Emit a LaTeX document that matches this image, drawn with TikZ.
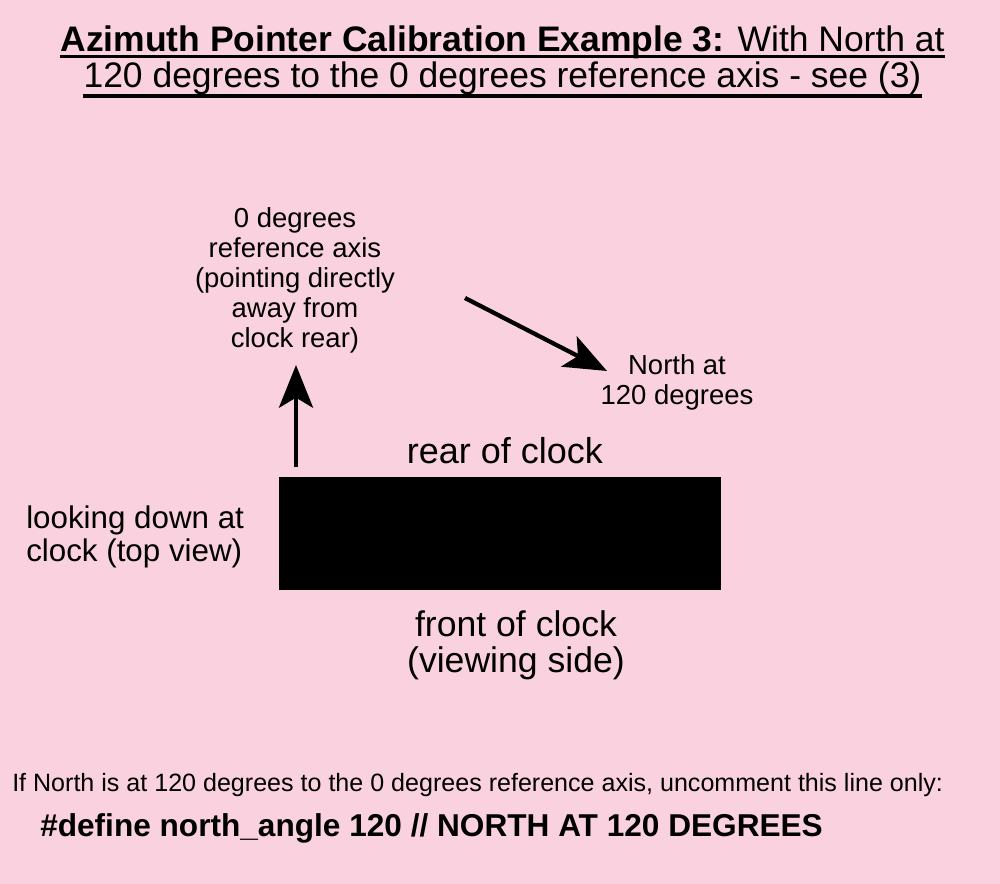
\documentclass[tikz,border=0pt]{standalone}
\usepackage{fontspec}
\setmainfont{Liberation Sans}
\usepackage{tikz}
\usetikzlibrary{arrows.meta, positioning, calc}
\definecolor{calpink}{RGB}{249,209,223}
\tikzset{
  cal title/.style={
    font=\fontsize{26.6}{30}\selectfont, inner sep=0pt, anchor=base
  },
  cal note/.style={
    font=\fontsize{20.6}{22.5}\selectfont, align=center, inner sep=0pt
  },
  cal side/.style={
    font=\fontsize{27}{27}\selectfont, inner sep=0pt
  },
  cal view/.style={
    font=\fontsize{23.5}{24.5}\selectfont, align=left, inner sep=0pt
  },
  cal face/.style={
    font=\fontsize{26.7}{27}\selectfont, align=center, inner sep=0pt
  },
  cal hint/.style={
    font=\fontsize{18.8}{20}\selectfont, inner sep=0pt, anchor=base west
  },
  cal code/.style={
    font=\fontsize{23.7}{25}\selectfont\bfseries, inner sep=0pt, anchor=base west
  },
  cal clock/.style={
    rectangle, fill=black, draw=none,
    minimum width=331.5pt, minimum height=84.75pt, inner sep=0pt
  },
  cal arrow/.style={
    -{Stealth[length=32pt, width=25.5pt, inset=7.5pt]}, line width=3.2pt
  },
  cal uline/.style={line width=2.6pt}
}

\begin{document}
\begin{tikzpicture}[x=0.75pt, y=-0.75pt]
  \useasboundingbox (0,0) rectangle (1000,884);
  \fill[calpink] (0,0) rectangle (1000,884);

  % heading
  \node (t1) [cal title] at (502.5,52) {{\bfseries Azimuth Pointer Calibration Example 3:} With North at};
  \node (t2) [cal title] at (502.5,88) {120 degrees to the 0 degrees reference axis - see (3)};
  \draw [cal uline] ($(t1.base west)+(0,4.5)$) -- ($(t1.base east)+(0,4.5)$);
  \draw [cal uline] ($(t2.base west)+(0,8)$) -- ($(t2.base east)+(0,8)$);

  % clock seen from above
  \node (clock) [cal clock] at (500,533.5) {};
  \node (rear) [cal side, anchor=base] at (505,463) {rear of clock};
  \node (front) [cal face] at (516,645) {front of clock\\(viewing side)};
  \node (view) [cal view, anchor=west] at (26,537) {looking down at\\clock (top view)};

  % directions
  \node (axis) [cal note] at (295,280) {0 degrees\\reference axis\\(pointing directly\\away from\\clock rear)};
  \node (north) [cal note] at (677,382.5) {North at\\120 degrees};
  \coordinate (axisfoot) at (296,467);
  \coordinate (axistip) at (296,365);
  \coordinate (northtail) at (465,298);
  \coordinate (northtip) at (607,371);
  \draw [cal arrow] (axisfoot) -- (axistip);
  \draw [cal arrow] (northtail) -- (northtip);

  % code hint
  \node (hint) [cal hint] at (12,791) {If North is at 120 degrees to the 0 degrees reference axis, uncomment this line only:};
  \node (code) [cal code] at (40,836) {\#define north\_angle 120 // NORTH AT 120 DEGREES};
\end{tikzpicture}
\end{document}
